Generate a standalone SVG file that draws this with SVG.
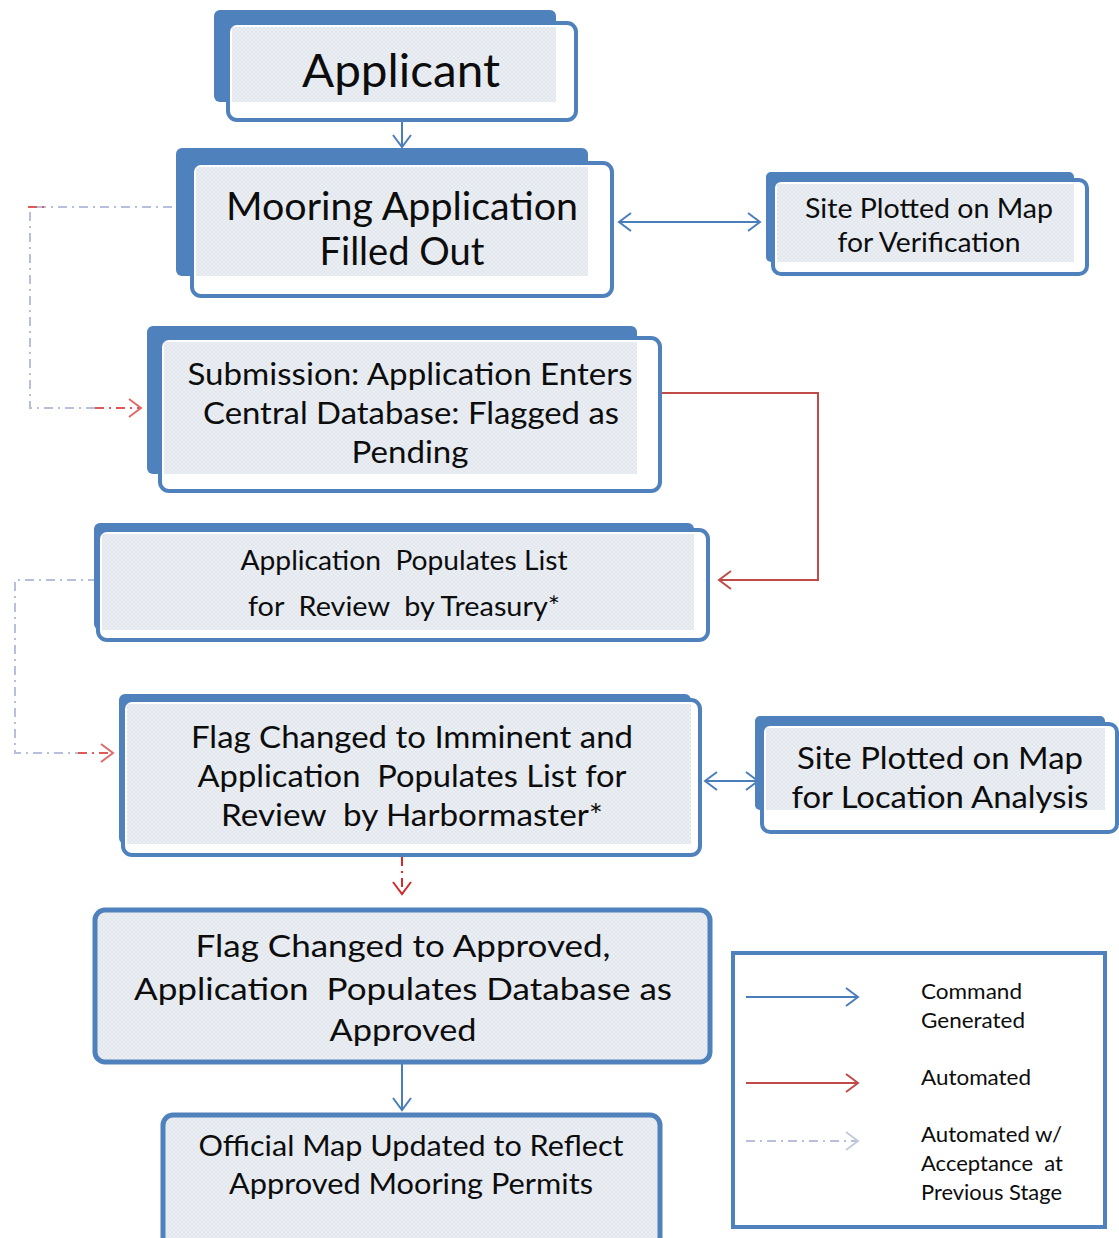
<svg xmlns="http://www.w3.org/2000/svg" width="1119" height="1238" viewBox="0 0 1119 1238">
<defs>
<pattern id="hatch" width="4" height="4" patternUnits="userSpaceOnUse">
<rect width="4" height="4" fill="#eceff4"/>
<path d="M0,4 L4,0 M0,0 L4,4" stroke="#dde2ea" stroke-width="0.7"/>
</pattern>
<marker id="mBlue" markerUnits="userSpaceOnUse" markerWidth="16" markerHeight="20" refX="13" refY="10" orient="auto-start-reverse">
<path d="M1,1 L13,10 L1,19" fill="none" stroke="#4a7ebb" stroke-width="2"/>
</marker>
<marker id="mRed" markerUnits="userSpaceOnUse" markerWidth="16" markerHeight="20" refX="13" refY="10" orient="auto">
<path d="M1,1 L13,10 L1,19" fill="none" stroke="#be4b48" stroke-width="2"/>
</marker>
<marker id="mPink" markerUnits="userSpaceOnUse" markerWidth="16" markerHeight="20" refX="13" refY="10" orient="auto">
<path d="M1,1 L13,10 L1,19" fill="none" stroke="#e06a6a" stroke-width="2"/>
</marker>
<marker id="mLight" markerUnits="userSpaceOnUse" markerWidth="16" markerHeight="20" refX="13" refY="10" orient="auto">
<path d="M1,1 L13,10 L1,19" fill="none" stroke="#c3cbe0" stroke-width="2"/>
</marker>
<marker id="mDRed" markerUnits="userSpaceOnUse" markerWidth="16" markerHeight="20" refX="13" refY="10" orient="auto">
<path d="M1,1 L13,10 L1,19" fill="none" stroke="#d42a2a" stroke-width="2"/>
</marker>
</defs>
<style>
.back{fill:#4f81bd}
.front{fill:#ffffff;stroke:#4f81bd;stroke-width:4}
.inner{fill:url(#hatch)}
.single{fill:url(#hatch);stroke:#4f81bd;stroke-width:5}
.t{font-family:Lato,"Open Sans","Liberation Sans",sans-serif;fill:#0d0d0d;text-anchor:middle}
.lt{font-family:Lato,"Open Sans","Liberation Sans",sans-serif;fill:#0d0d0d;font-size:21px}
.blue{fill:none;stroke:#4a7ebb;stroke-width:2}
.red{fill:none;stroke:#be4b48;stroke-width:2}
.light{fill:none;stroke:#b6c0dc;stroke-width:2;stroke-dasharray:9 5 2 5}
.pink{fill:none;stroke:#de5a5a;stroke-width:2;stroke-dasharray:9 5 2 5}
.dred{fill:none;stroke:#d42a2a;stroke-width:2;stroke-dasharray:9 5 2 5}
</style>
<rect width="1119" height="1238" fill="#ffffff"/>

<g id="connectors">
<line class="blue" x1="402" y1="121" x2="402" y2="147" marker-end="url(#mBlue)"/>
<line class="blue" x1="619" y1="222" x2="760" y2="222" marker-start="url(#mBlue)" marker-end="url(#mBlue)"/>
<path class="light" d="M172,207 L30,207 L30,408 L95,408"/>
<path class="pink" d="M28,207 L45,207"/>
<path class="pink" d="M95,408 L141,408" marker-end="url(#mPink)"/>
<path class="red" d="M662,393 L818,393 L818,580 L719,580" marker-end="url(#mRed)"/>
<path class="light" d="M97,580 L15,580 L15,753 L78,753"/>
<path class="pink" d="M78,753 L113,753" marker-end="url(#mPink)"/>
<line class="blue" x1="705" y1="781" x2="758" y2="781" marker-start="url(#mBlue)" marker-end="url(#mBlue)"/>
<line class="dred" x1="402" y1="857" x2="402" y2="894" marker-end="url(#mDRed)"/>
<line class="blue" x1="402" y1="1063" x2="402" y2="1110" marker-end="url(#mBlue)"/>
</g>

<g id="applicant">
<rect class="back" x="214" y="10" width="342" height="92" rx="6"/>
<rect class="front" x="228" y="23" width="348" height="97" rx="9"/>
<rect class="inner" x="232" y="27" width="324" height="75"/>
<text class="t" x="401" y="87" font-size="46" textLength="198" lengthAdjust="spacingAndGlyphs">Applicant</text>
</g>

<g id="mooring">
<rect class="back" x="176" y="148" width="412" height="128" rx="6"/>
<rect class="front" x="192" y="163" width="420" height="133" rx="9"/>
<rect class="inner" x="196" y="167" width="392" height="109"/>
<text class="t" x="402" y="220" font-size="38" textLength="352" lengthAdjust="spacingAndGlyphs">Mooring Application</text>
<text class="t" x="402" y="265" font-size="38" textLength="165" lengthAdjust="spacingAndGlyphs">Filled Out</text>
</g>

<g id="site-verification">
<rect class="back" x="766" y="172" width="308" height="90" rx="5"/>
<rect class="front" x="773" y="180" width="314" height="94" rx="8"/>
<rect class="inner" x="777" y="184" width="297" height="78"/>
<text class="t" x="929" y="218" font-size="26" textLength="248" lengthAdjust="spacingAndGlyphs">Site Plotted on Map</text>
<text class="t" x="929" y="252" font-size="26" textLength="183" lengthAdjust="spacingAndGlyphs">for Verification</text>
</g>

<g id="submission">
<rect class="back" x="147" y="326" width="490" height="148" rx="6"/>
<rect class="front" x="160" y="338" width="500" height="153" rx="9"/>
<rect class="inner" x="164" y="342" width="473" height="132"/>
<text class="t" x="410" y="385" font-size="30" textLength="445" lengthAdjust="spacingAndGlyphs">Submission: Application Enters</text>
<text class="t" x="411" y="424" font-size="30" textLength="416" lengthAdjust="spacingAndGlyphs">Central Database: Flagged as</text>
<text class="t" x="410" y="463" font-size="30" textLength="117" lengthAdjust="spacingAndGlyphs">Pending</text>
</g>

<g id="treasury">
<rect class="back" x="94" y="523" width="600" height="107" rx="6"/>
<rect class="front" x="98" y="530" width="610" height="110" rx="9"/>
<rect class="inner" x="102" y="534" width="592" height="96"/>
<text class="t" x="404" y="570" font-size="26" textLength="327" lengthAdjust="spacingAndGlyphs" xml:space="preserve">Application  Populates List</text>
<text class="t" x="404" y="616" font-size="26" textLength="312" lengthAdjust="spacingAndGlyphs" xml:space="preserve">for  Review  by Treasury*</text>
</g>

<g id="imminent">
<rect class="back" x="119" y="694" width="572" height="150" rx="6"/>
<rect class="front" x="123" y="700" width="577" height="155" rx="9"/>
<rect class="inner" x="127" y="704" width="564" height="140"/>
<text class="t" x="412" y="748" font-size="30" textLength="442" lengthAdjust="spacingAndGlyphs">Flag Changed to Imminent and</text>
<text class="t" x="412" y="787" font-size="30" textLength="429" lengthAdjust="spacingAndGlyphs" xml:space="preserve">Application  Populates List for</text>
<text class="t" x="412" y="826" font-size="30" textLength="382" lengthAdjust="spacingAndGlyphs" xml:space="preserve">Review  by Harbormaster*</text>
</g>

<g id="site-location">
<rect class="back" x="755" y="716" width="350" height="94" rx="5"/>
<rect class="front" x="762" y="724" width="355" height="108" rx="8"/>
<rect class="inner" x="766" y="728" width="339" height="82"/>
<text class="t" x="940" y="769" font-size="30" textLength="286" lengthAdjust="spacingAndGlyphs">Site Plotted on Map</text>
<text class="t" x="940" y="808" font-size="30" textLength="297" lengthAdjust="spacingAndGlyphs">for Location Analysis</text>
</g>

<g id="approved">
<rect class="single" x="95" y="910" width="615" height="152" rx="10"/>
<text class="t" x="403" y="957" font-size="31" textLength="415" lengthAdjust="spacingAndGlyphs">Flag Changed to Approved,</text>
<text class="t" x="403" y="1000" font-size="31" textLength="538" lengthAdjust="spacingAndGlyphs" xml:space="preserve">Application  Populates Database as</text>
<text class="t" x="403" y="1041" font-size="31" textLength="147" lengthAdjust="spacingAndGlyphs">Approved</text>
</g>

<g id="official-map">
<rect class="single" x="163" y="1115" width="497" height="135" rx="10"/>
<text class="t" x="411" y="1156" font-size="28" textLength="425" lengthAdjust="spacingAndGlyphs">Official Map Updated to Reflect</text>
<text class="t" x="411" y="1194" font-size="28" textLength="364" lengthAdjust="spacingAndGlyphs">Approved Mooring Permits</text>
</g>

<g id="legend">
<rect x="733" y="953" width="372" height="274" fill="#ffffff" stroke="#4f81bd" stroke-width="4"/>
<line class="blue" x1="746" y1="997" x2="858" y2="997" marker-end="url(#mBlue)"/>
<line class="red" x1="746" y1="1083" x2="858" y2="1083" marker-end="url(#mRed)"/>
<line class="light" x1="746" y1="1141" x2="858" y2="1141" marker-end="url(#mLight)"/>
<text class="lt" x="921" y="999" textLength="101" lengthAdjust="spacingAndGlyphs">Command</text>
<text class="lt" x="921" y="1028" textLength="104" lengthAdjust="spacingAndGlyphs">Generated</text>
<text class="lt" x="921" y="1085" textLength="110" lengthAdjust="spacingAndGlyphs">Automated</text>
<text class="lt" x="921" y="1142" textLength="141" lengthAdjust="spacingAndGlyphs">Automated w/</text>
<text class="lt" x="921" y="1171" textLength="142" lengthAdjust="spacingAndGlyphs" xml:space="preserve">Acceptance  at</text>
<text class="lt" x="921" y="1200" textLength="141" lengthAdjust="spacingAndGlyphs">Previous Stage</text>
</g>
</svg>
